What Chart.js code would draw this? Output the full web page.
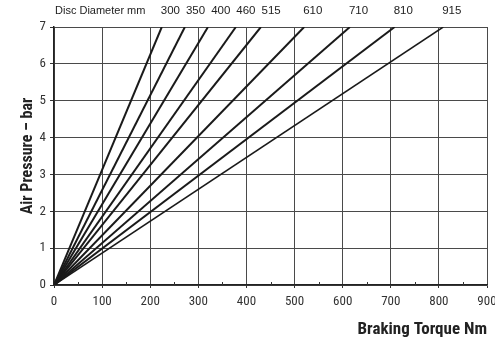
<!DOCTYPE html>
<html>
<head>
<meta charset="utf-8">
<script src="https://cdn.jsdelivr.net/npm/chart.js@4.4.1/dist/chart.umd.min.js"></script>
<style>
html,body{margin:0;padding:0;background:#fff;overflow:hidden;}
canvas{display:block;}
</style>
</head>
<body>
<canvas id="c" width="495" height="345"></canvas>
<script>
// Data
const diameters = ['300', '350', '400', '460', '515', '610', '710', '810', '915'];
const torqueAtMaxPressure = [224, 272, 320, 378, 430, 520, 615, 708, 809];
const maxPressure = 7;
const xTicks = [0, 100, 200, 300, 400, 500, 600, 700, 800, 900];
const yTicks = [0, 1, 2, 3, 4, 5, 6, 7];
const diameterCaption = 'Disc Diameter mm';

const NARROW = "'Liberation Sans Narrow', 'Roboto Condensed', 'Arial Narrow', Arial, sans-serif";
const REG = "'Liberation Sans', Arial, sans-serif";

const datasets = diameters.map((d, i) => ({
  label: d + ' mm',
  data: [{x: 0, y: 0}, {x: torqueAtMaxPressure[i], y: maxPressure}],
  showLine: true,
  borderColor: '#1a1a1a',
  borderWidth: i === diameters.length - 1 ? 1.5 : 2,
  pointRadius: 0,
  fill: false
}));

const topLabels = {
  id: 'topLabels',
  afterDraw(chart) {
    const ctx = chart.ctx;
    const xs = chart.scales.x, ys = chart.scales.y;
    ctx.save();
    ctx.fillStyle = '#222';
    ctx.font = "11px " + REG;
    ctx.textBaseline = 'middle';
    ctx.textAlign = 'left';
    const yy = 11;
    let x = xs.left + 1;
    ctx.fillText(diameterCaption, x, yy);
    let prevRight = x + ctx.measureText(diameterCaption).width;
    ctx.font = "11.5px " + REG;
    diameters.forEach((d, i) => {
      const ex = xs.getPixelForValue(torqueAtMaxPressure[i]);
      const lx = Math.max(ex - 1, prevRight + 6);
      ctx.fillText(d, lx, yy);
      prevRight = lx + ctx.measureText(d).width;
    });
    // minor ticks on x axis (inside)
    ctx.strokeStyle = '#333';
    ctx.lineWidth = 1;
    for (let v = 50; v < 900; v += 100) {
      const px = Math.round(xs.getPixelForValue(v)) + 0.5;
      ctx.beginPath();
      ctx.moveTo(px, ys.bottom);
      ctx.lineTo(px, ys.bottom - 3);
      ctx.stroke();
    }
    ctx.restore();
  }
};

new Chart(document.getElementById('c'), {
  type: 'scatter',
  data: { datasets },
  options: {
    responsive: false,
    animation: false,
    devicePixelRatio: 1,
    layout: { padding: { top: 27, right: 8, left: 4, bottom: 0 } },
    plugins: { legend: { display: false }, tooltip: { enabled: false } },
    scales: {
      x: {
        type: 'linear',
        min: 0, max: 900,
        afterBuildTicks: s => { s.ticks = xTicks.map(v => ({value: v})); },
        afterFit: s => { s.paddingRight = 0; s.paddingLeft = 0; s.height = 60; },
        grid: { color: '#4a4a4a', lineWidth: 1, tickLength: 3, tickColor: '#333' },
        border: { color: '#222', width: 1.5 },
        ticks: { color: '#333', font: { family: NARROW, size: 13 }, padding: 6, maxRotation: 0 },
        title: { display: true, text: 'Braking Torque Nm', align: 'end', color: '#222',
                 font: { family: NARROW, size: 17, weight: 'bold' }, padding: { top: 0, bottom: 5 } }
      },
      y: {
        type: 'linear',
        min: 0, max: 7,
        afterBuildTicks: s => { s.ticks = yTicks.map(v => ({value: v})); },
        afterFit: s => { s.width = 50; },
        grid: { color: '#4a4a4a', lineWidth: 1, tickLength: 4, tickColor: '#333' },
        border: { color: '#222', width: 1.5 },
        ticks: { color: '#333', font: { family: NARROW, size: 13 }, padding: 4 },
        title: { display: true, text: 'Air Pressure – bar', color: '#222',
                 font: { family: NARROW, size: 16, weight: 'bold' }, padding: { top: 14, bottom: 0 } }
      }
    }
  },
  plugins: [topLabels]
});
</script>
</body>
</html>
